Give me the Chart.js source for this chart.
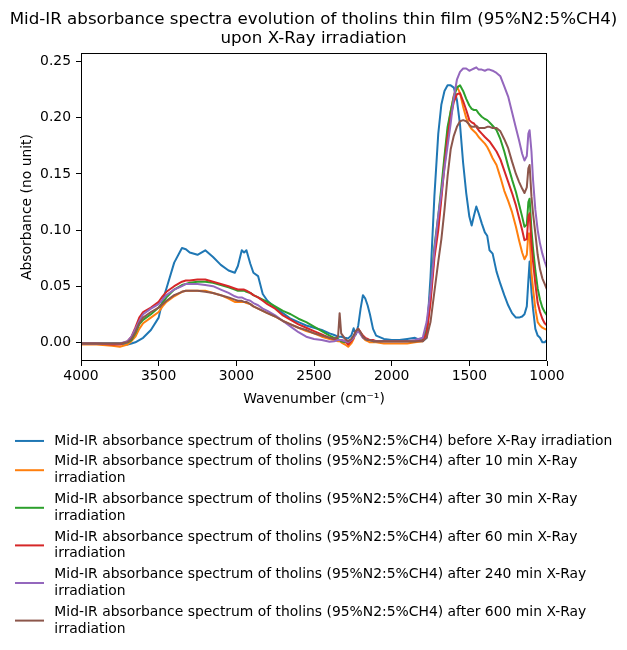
<!DOCTYPE html>
<html>
<head>
<meta charset="utf-8">
<script src="https://cdn.jsdelivr.net/npm/chart.js@4.4.0/dist/chart.umd.min.js"></script>
<style>
  body { margin: 0; background: #fff; }
  canvas { display: block; }
</style>
</head>
<body>
<canvas id="spectra" width="627" height="650"></canvas>
<script>
// wavenumber grid (cm^-1), shared by all spectra
const wavenumbers = [
  4000, 3900, 3800, 3750, 3700, 3675, 3650, 3625, 3600, 3550,
  3500, 3475, 3450, 3400, 3350, 3325, 3300, 3250, 3200, 3150,
  3100, 3050, 3010, 2990, 2965, 2950, 2935, 2910, 2890, 2860,
  2830, 2800, 2750, 2700, 2650, 2600, 2550, 2500, 2450, 2400,
  2370, 2345, 2335, 2325, 2300, 2280, 2260, 2245, 2230, 2215,
  2200, 2185, 2170, 2155, 2140, 2120, 2100, 2050, 2000, 1950,
  1900, 1850, 1800, 1775, 1750, 1725, 1700, 1680, 1660, 1640,
  1620, 1600, 1580, 1560, 1540, 1520, 1500, 1485, 1470, 1455,
  1440, 1420, 1400, 1385, 1370, 1350, 1325, 1300, 1275, 1250,
  1225, 1200, 1180, 1160, 1145, 1130, 1120, 1112, 1100, 1090,
  1075, 1060, 1045, 1030, 1015, 1000
];

const before = [
  -0.001, -0.001, -0.001, -0.001, -0.002, -0.001, 0.000, 0.002, 0.004, 0.011,
  0.022, 0.037, 0.048, 0.071, 0.084, 0.083, 0.080, 0.078, 0.082, 0.076,
  0.069, 0.064, 0.062, 0.068, 0.082, 0.080, 0.082, 0.070, 0.062, 0.059,
  0.043, 0.037, 0.031, 0.026, 0.021, 0.018, 0.015, 0.013, 0.011, 0.008,
  0.0065, 0.005, 0.005, 0.005, 0.004, 0.0035, 0.006, 0.0125, 0.007, 0.015,
  0.030, 0.042, 0.039, 0.033, 0.025, 0.012, 0.006, 0.003, 0.002, 0.002,
  0.003, 0.004, 0.001, 0.004, 0.058, 0.130, 0.186, 0.212, 0.224, 0.229,
  0.229, 0.227, 0.216, 0.194, 0.160, 0.133, 0.112, 0.104, 0.113, 0.121,
  0.115, 0.106, 0.098, 0.095, 0.082, 0.079, 0.063, 0.052, 0.042, 0.033,
  0.026, 0.022, 0.022, 0.023, 0.025, 0.032, 0.055, 0.072, 0.045, 0.030,
  0.012, 0.006, 0.004, 0.000, 0.000, 0.002
];

const after10 = [
  -0.002, -0.002, -0.003, -0.004, -0.002, 0.001, 0.005, 0.012, 0.017, 0.022,
  0.027, 0.032, 0.036, 0.041, 0.045, 0.046, 0.046, 0.046, 0.046, 0.044,
  0.042, 0.039, 0.036, 0.036, 0.036, 0.036, 0.035, 0.034, 0.032, 0.030,
  0.028, 0.026, 0.023, 0.019, 0.016, 0.013, 0.010, 0.008, 0.005, 0.003,
  0.002, 0.001, 0.001, 0.000, -0.002, -0.004, -0.001, 0.003, 0.009, 0.012,
  0.008, 0.004, 0.002, 0.001, 0.000, 0.000, 0.000, -0.001, -0.001, -0.001,
  -0.001, 0.000, 0.001, 0.008, 0.040, 0.080, 0.105, 0.132, 0.162, 0.188,
  0.206, 0.220, 0.228, 0.222, 0.210, 0.200, 0.193, 0.190, 0.188, 0.186,
  0.183, 0.180, 0.177, 0.174, 0.170, 0.164, 0.158, 0.147, 0.135, 0.126,
  0.116, 0.103, 0.091, 0.080, 0.074, 0.078, 0.097, 0.097, 0.062, 0.048,
  0.030, 0.018, 0.015, 0.013, 0.012, 0.011
];

const after30 = [
  -0.001, -0.001, -0.001, -0.001, 0.000, 0.002, 0.008, 0.016, 0.020, 0.025,
  0.031, 0.035, 0.040, 0.047, 0.051, 0.052, 0.053, 0.054, 0.054, 0.053,
  0.051, 0.049, 0.047, 0.046, 0.046, 0.046, 0.045, 0.044, 0.042, 0.040,
  0.038, 0.036, 0.032, 0.028, 0.025, 0.021, 0.018, 0.014, 0.010, 0.006,
  0.004, 0.003, 0.002, 0.001, 0.000, 0.000, 0.002, 0.005, 0.009, 0.011,
  0.008, 0.005, 0.003, 0.002, 0.002, 0.001, 0.001, 0.001, 0.001, 0.001,
  0.001, 0.001, 0.002, 0.012, 0.045, 0.085, 0.113, 0.138, 0.166, 0.192,
  0.206, 0.219, 0.227, 0.229, 0.224, 0.217, 0.211, 0.208, 0.207, 0.207,
  0.204, 0.201, 0.199, 0.198, 0.196, 0.193, 0.189, 0.181, 0.170, 0.157,
  0.145, 0.134, 0.123, 0.112, 0.103, 0.105, 0.125, 0.128, 0.100, 0.084,
  0.064, 0.048, 0.038, 0.031, 0.027, 0.024
];

const after60 = [
  -0.001, -0.001, -0.002, -0.002, 0.001, 0.005, 0.013, 0.022, 0.027, 0.031,
  0.036, 0.041, 0.045, 0.050, 0.054, 0.055, 0.055, 0.056, 0.056, 0.054,
  0.052, 0.050, 0.048, 0.047, 0.047, 0.047, 0.046, 0.044, 0.042, 0.040,
  0.037, 0.034, 0.030, 0.024, 0.020, 0.016, 0.013, 0.010, 0.007, 0.004,
  0.003, 0.002, 0.002, 0.002, 0.001, -0.002, 0.001, 0.004, 0.010, 0.012,
  0.009, 0.006, 0.004, 0.003, 0.002, 0.002, 0.001, 0.001, 0.001, 0.001,
  0.001, 0.001, 0.0015, 0.008, 0.035, 0.075, 0.100, 0.128, 0.157, 0.183,
  0.201, 0.214, 0.221, 0.222, 0.215, 0.207, 0.198, 0.196, 0.195, 0.192,
  0.189, 0.186, 0.183, 0.181, 0.179, 0.175, 0.170, 0.163, 0.153, 0.143,
  0.133, 0.122, 0.111, 0.100, 0.091, 0.092, 0.112, 0.115, 0.088, 0.072,
  0.052, 0.035, 0.027, 0.021, 0.017, 0.015
];

const after240 = [
  -0.001, -0.001, -0.001, -0.001, 0.001, 0.005, 0.012, 0.019, 0.025, 0.030,
  0.034, 0.038, 0.042, 0.047, 0.050, 0.052, 0.052, 0.052, 0.051, 0.050,
  0.047, 0.044, 0.041, 0.040, 0.040, 0.039, 0.038, 0.037, 0.035, 0.033,
  0.030, 0.028, 0.024, 0.019, 0.014, 0.009, 0.005, 0.003, 0.002, 0.0005,
  0.001, 0.002, 0.002, 0.002, 0.001, 0.000, 0.002, 0.004, 0.008, 0.010,
  0.007, 0.004, 0.003, 0.002, 0.002, 0.001, 0.001, 0.001, 0.001, 0.001,
  0.001, 0.002, 0.004, 0.018, 0.045, 0.082, 0.113, 0.133, 0.155, 0.175,
  0.195, 0.218, 0.234, 0.241, 0.244, 0.244, 0.242, 0.243, 0.244, 0.245,
  0.243, 0.243, 0.242, 0.243, 0.243, 0.242, 0.240, 0.237, 0.228, 0.219,
  0.205, 0.191, 0.180, 0.168, 0.162, 0.166, 0.186, 0.189, 0.170, 0.145,
  0.118, 0.100, 0.088, 0.079, 0.072, 0.066
];

const after600 = [
  -0.001, -0.001, -0.001, -0.001, 0.000, 0.003, 0.009, 0.017, 0.022, 0.027,
  0.031, 0.034, 0.037, 0.042, 0.045, 0.046, 0.046, 0.046, 0.045, 0.044,
  0.042, 0.040, 0.038, 0.037, 0.037, 0.036, 0.036, 0.034, 0.032, 0.030,
  0.028, 0.026, 0.023, 0.019, 0.016, 0.013, 0.011, 0.008, 0.006, 0.004,
  0.003, 0.005, 0.026, 0.008, 0.003, 0.001, 0.003, 0.006, 0.010, 0.012,
  0.009, 0.005, 0.003, 0.002, 0.002, 0.001, 0.001, 0.001, 0.001, 0.001,
  0.001, 0.001, 0.001, 0.004, 0.018, 0.045, 0.072, 0.092, 0.118, 0.148,
  0.172, 0.184, 0.192, 0.197, 0.198, 0.197, 0.194, 0.192, 0.192, 0.193,
  0.191, 0.191, 0.191, 0.192, 0.192, 0.191, 0.191, 0.188, 0.181, 0.173,
  0.161, 0.150, 0.143, 0.137, 0.133, 0.138, 0.155, 0.158, 0.130, 0.115,
  0.097, 0.078, 0.065, 0.057, 0.052, 0.047
];

const seriesValues = [before, after10, after30, after60, after240, after600];
const seriesLabels = [
  'Mid-IR absorbance spectrum of tholins (95%N2:5%CH4) before X-Ray irradiation',
  'Mid-IR absorbance spectrum of tholins (95%N2:5%CH4) after 10 min X-Ray\nirradiation',
  'Mid-IR absorbance spectrum of tholins (95%N2:5%CH4) after 30 min X-Ray\nirradiation',
  'Mid-IR absorbance spectrum of tholins (95%N2:5%CH4) after 60 min X-Ray\nirradiation',
  'Mid-IR absorbance spectrum of tholins (95%N2:5%CH4) after 240 min X-Ray\nirradiation',
  'Mid-IR absorbance spectrum of tholins (95%N2:5%CH4) after 600 min X-Ray\nirradiation'
];
const seriesColors = ['#1f77b4', '#ff7f0e', '#2ca02c', '#d62728', '#9467bd', '#8c564b'];

const xTicks = [4000, 3500, 3000, 2500, 2000, 1500, 1000];
const yTicks = [0, 0.05, 0.10, 0.15, 0.20, 0.25];

const FONT = "'DejaVu Sans', sans-serif";

// axes box on all four sides, like matplotlib spines
const framePlugin = {
  id: 'frame',
  afterDatasetsDraw(chart) {
    const {ctx, chartArea: a} = chart;
    ctx.save();
    ctx.strokeStyle = '#000';
    ctx.lineWidth = 1;
    ctx.strokeRect(a.left + 0.5, a.top + 0.5, a.right - a.left - 1, a.bottom - a.top - 1);
    ctx.restore();
  }
};

// vertical legend below the axes, labels may wrap on '\n'
const legendPlugin = {
  id: 'wrappedLegend',
  afterDraw(chart) {
    const ctx = chart.ctx;
    const lineH = 16.7;
    const gap = 4.2;
    let top = chart.chartArea.bottom + 71.6;
    ctx.save();
    ctx.font = '13.9px ' + FONT;
    ctx.textBaseline = 'middle';
    ctx.textAlign = 'left';
    chart.data.datasets.forEach(ds => {
      const lines = ds.label.split('\n');
      const h = lines.length * lineH;
      const cy = top + h / 2;
      ctx.strokeStyle = ds.borderColor;
      ctx.lineWidth = 2;
      ctx.beginPath();
      ctx.moveTo(15, cy);
      ctx.lineTo(44, cy);
      ctx.stroke();
      ctx.fillStyle = '#000';
      lines.forEach((t, k) => ctx.fillText(t, 54.3, top + lineH * (k + 0.5)));
      top += h + gap;
    });
    ctx.restore();
  }
};

const datasets = seriesValues.map((vals, i) => ({
  label: seriesLabels[i],
  data: wavenumbers.map((w, k) => ({x: w, y: vals[k]})),
  borderColor: seriesColors[i],
  backgroundColor: seriesColors[i],
  borderWidth: 2,
  pointRadius: 0,
  tension: 0,
  borderJoinStyle: 'round',
  fill: false,
  order: seriesValues.length - 1 - i
}));

new Chart(document.getElementById('spectra'), {
  type: 'line',
  data: {datasets: datasets},
  plugins: [framePlugin, legendPlugin],
  options: {
    responsive: false,
    animation: false,
    devicePixelRatio: 1,
    layout: {padding: {top: 10, left: 0, right: 0, bottom: 237}},
    plugins: {
      legend: {display: false},
      tooltip: {enabled: false},
      title: {
        display: true,
        text: ['Mid-IR absorbance spectra evolution of tholins thin film (95%N2:5%CH4)', 'upon X-Ray irradiation'],
        color: '#000',
        font: {family: FONT, size: 16.7, weight: 'normal', lineHeight: 1.15},
        padding: {top: 0, bottom: 4.6}
      }
    },
    scales: {
      x: {
        type: 'linear',
        reverse: true,
        min: 1000,
        max: 4000,
        afterBuildTicks: s => { s.ticks = xTicks.map(v => ({value: v})); },
        afterFit: s => { s.height = 52; },
        border: {display: false},
        grid: {display: true, drawOnChartArea: false, drawTicks: true, tickLength: 5, tickColor: '#000', lineWidth: 1},
        ticks: {color: '#000', font: {family: FONT, size: 13.9}, padding: 2, maxRotation: 0, autoSkip: false,
                callback: v => String(v)},
        title: {display: true, text: 'Wavenumber (cm⁻¹)', color: '#000',
                font: {family: FONT, size: 13.9}, padding: {top: 0, bottom: 5}}
      },
      y: {
        type: 'linear',
        min: -0.01666,
        max: 0.2578,
        afterBuildTicks: s => { s.ticks = yTicks.map(v => ({value: v})); },
        afterFit: s => { s.width = 81; },
        border: {display: false},
        grid: {display: true, drawOnChartArea: false, drawTicks: true, tickLength: 5, tickColor: '#000', lineWidth: 1},
        ticks: {color: '#000', font: {family: FONT, size: 13.9}, padding: 5,
                callback: v => v.toFixed(2)},
        title: {display: true, text: 'Absorbance (no unit)', color: '#000',
                font: {family: FONT, size: 13.9}, padding: {top: 19, bottom: 0}}
      },
      // empty right-hand margin so the title can centre on the whole figure
      margin: {
        type: 'linear',
        position: 'right',
        display: true,
        afterFit: s => { s.width = 80; },
        border: {display: false},
        grid: {display: false},
        ticks: {display: false}
      }
    }
  }
});
</script>
</body>
</html>
